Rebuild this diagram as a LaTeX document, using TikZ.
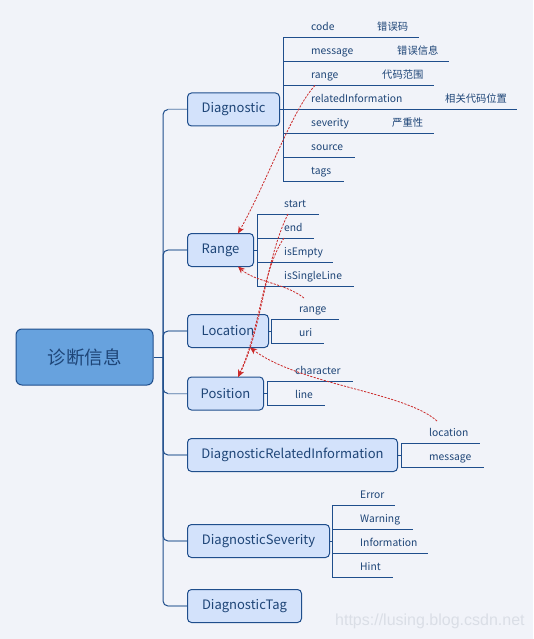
\documentclass[tikz,border=0pt]{standalone}
\usepackage{fontspec}
\setmainfont{Noto Sans CJK SC}
\newfontfamily\wmfont{Liberation Sans}
\usetikzlibrary{arrows.meta}
\definecolor{bg}{HTML}{F1F3F9}
\definecolor{dk}{HTML}{1F4E8C}
\definecolor{txt}{HTML}{1E4577}
\definecolor{nodefill}{HTML}{D3E2FB}
\definecolor{rootfill}{HTML}{67A2DE}
\definecolor{br}{HTML}{8AA3C4}
\definecolor{rd}{HTML}{CC2B2B}
\definecolor{wm}{HTML}{DADEE6}
\begin{document}
\begin{tikzpicture}[x=1pt,y=-1pt,
  topic/.style={draw=dk, line width=1pt, fill=nodefill, rounded corners=4pt, text=txt,
    font=\fontsize{13}{15}\selectfont, anchor=west, minimum height=33pt, inner sep=0pt},
  lbl/.style={text=txt, font=\fontsize{10.3}{12}\selectfont, anchor=base west, inner sep=0pt},
  uline/.style={draw=dk, line width=1pt},
  branch/.style={draw=dk, line width=1pt, rounded corners=5pt},
  stub/.style={draw=br, line width=1.2pt},
  link/.style={draw=rd, dash pattern=on 2.2pt off 1.3pt, line width=0.8pt,
    -{Stealth[length=7pt,width=6pt]}}
]
\fill[bg] (0,0) rectangle (533,639);
\useasboundingbox (0,0) rectangle (533,639);

% root
\node[draw=dk, line width=1pt, fill=rootfill, rounded corners=6pt, minimum width=137pt,
  minimum height=56pt, text=txt, font=\fontsize{18.5}{20}\selectfont, inner sep=0pt]
  (root) at (84.5,357) {诊断信息};
\coordinate (hub) at (163,357);
\draw[uline] (root.east) -- (hub);

% topics
\node[topic, minimum width=92pt]  (diag) at (187,109.5) {Diagnostic};
\node[topic, minimum width=66pt]  (rng)  at (187,250)   {Range};
\node[topic, minimum width=81pt]  (loc)  at (187,331)   {Location};
\node[topic, minimum width=76pt]  (pos)  at (187,393.5) {Position};
\node[topic, minimum width=210pt] (dri)  at (187,455)   {DiagnosticRelatedInformation};
\node[topic, minimum width=142pt] (sev)  at (187,541)   {DiagnosticSeverity};
\node[topic, minimum width=114pt] (tag)  at (187,606)   {DiagnosticTag};

\foreach \t in {diag,rng,loc,pos,dri,sev,tag}{
  \draw[branch] (hub) |- (\t.west);
  \draw[stub] ([xshift=-19pt]\t.west) -- (\t.west);
}

% Diagnostic items
\draw[uline] (283,37.5) -- (283,181.5);
\draw[uline] (diag.east) -- (283,109.5);
\foreach \n/\y/\e in {code/37.5/419, message/61.5/449, range/85.5/434,
  relatedInformation/109.5/517, severity/133.5/434, source/157.5/355, tags/181.5/344}{
  \node[lbl] (d-\n) at (311,\y-7) {\n};
  \draw[uline] (283,\y) -- (\e,\y);
}
\node[lbl] (d-code-zh) at (377,30.5) {错误码};
\node[lbl] (d-message-zh) at (397,54.5) {错误信息};
\node[lbl] (d-range-zh) at (382,78.5) {代码范围};
\node[lbl] (d-rel-zh) at (445,102.5) {相关代码位置};
\node[lbl] (d-sev-zh) at (392,126.5) {严重性};

% Range items
\draw[uline] (257,214) -- (257,286);
\draw[uline] (rng.east) -- (257,250);
\foreach \n/\y/\e in {start/214/319, end/238/314, isEmpty/262/333, isSingleLine/286/354}{
  \node[lbl] (r-\n) at (284,\y-7) {\n};
  \draw[uline] (257,\y) -- (\e,\y);
}

% Location items
\draw[uline] (271,319) -- (271,343);
\draw[uline] (loc.east) -- (271,331);
\foreach \n/\y/\e in {range/319/339, uri/343/324}{
  \node[lbl] (l-\n) at (299,\y-7) {\n};
  \draw[uline] (271,\y) -- (\e,\y);
}

% Position items
\draw[uline] (267,381.5) -- (267,405.5);
\draw[uline] (pos.east) -- (267,393.5);
\foreach \n/\y/\e in {character/381.5/353, line/405.5/325}{
  \node[lbl] (p-\n) at (295,\y-7) {\n};
  \draw[uline] (267,\y) -- (\e,\y);
}

% DiagnosticRelatedInformation items
\draw[uline] (401,443) -- (401,467);
\draw[uline] (dri.east) -- (401,455);
\foreach \n/\y/\e in {location/443/480, message/467/484}{
  \node[lbl] (ri-\n) at (429,\y-7) {\n};
  \draw[uline] (401,\y) -- (\e,\y);
}

% DiagnosticSeverity items
\draw[uline] (332,505) -- (332,577);
\draw[uline] (sev.east) -- (332,541);
\foreach \n/\y/\e in {Error/505/395, Warning/529/413, Information/553/428, Hint/577/393}{
  \node[lbl] (s-\n) at (360,\y-7) {\n};
  \draw[uline] (332,\y) -- (\e,\y);
}

% reference links
\coordinate (a1) at (315,85.5);
\coordinate (a2) at (304,298);
\coordinate (a3) at (288,214);
\coordinate (a4) at (284,238);
\coordinate (a5) at (437,421);
\coordinate (rngtop) at (238,233.5);
\coordinate (rngbot) at (238,266.5);
\coordinate (postop) at (238,377);
\coordinate (locbot) at (250,347.5);
\draw[link] (a1) .. controls (292,110) and (268,180) .. (rngtop);
\draw[link] (a2) .. controls (285,283) and (255,282) .. (rngbot);
\draw[link] (a3) .. controls (265,260) and (262,330) .. (postop);
\draw[link] (a4) .. controls (262,270) and (260,330) .. (postop);
\draw[link] (a5) .. controls (405,392) and (300,385) .. (locbot);

% watermark
\node[text=wm, font=\wmfont\fontsize{16}{18}\selectfont, anchor=west, inner sep=0pt]
  (wmark) at (335,621) {https://lusing.blog.csdn.net};
\end{tikzpicture}
\end{document}
